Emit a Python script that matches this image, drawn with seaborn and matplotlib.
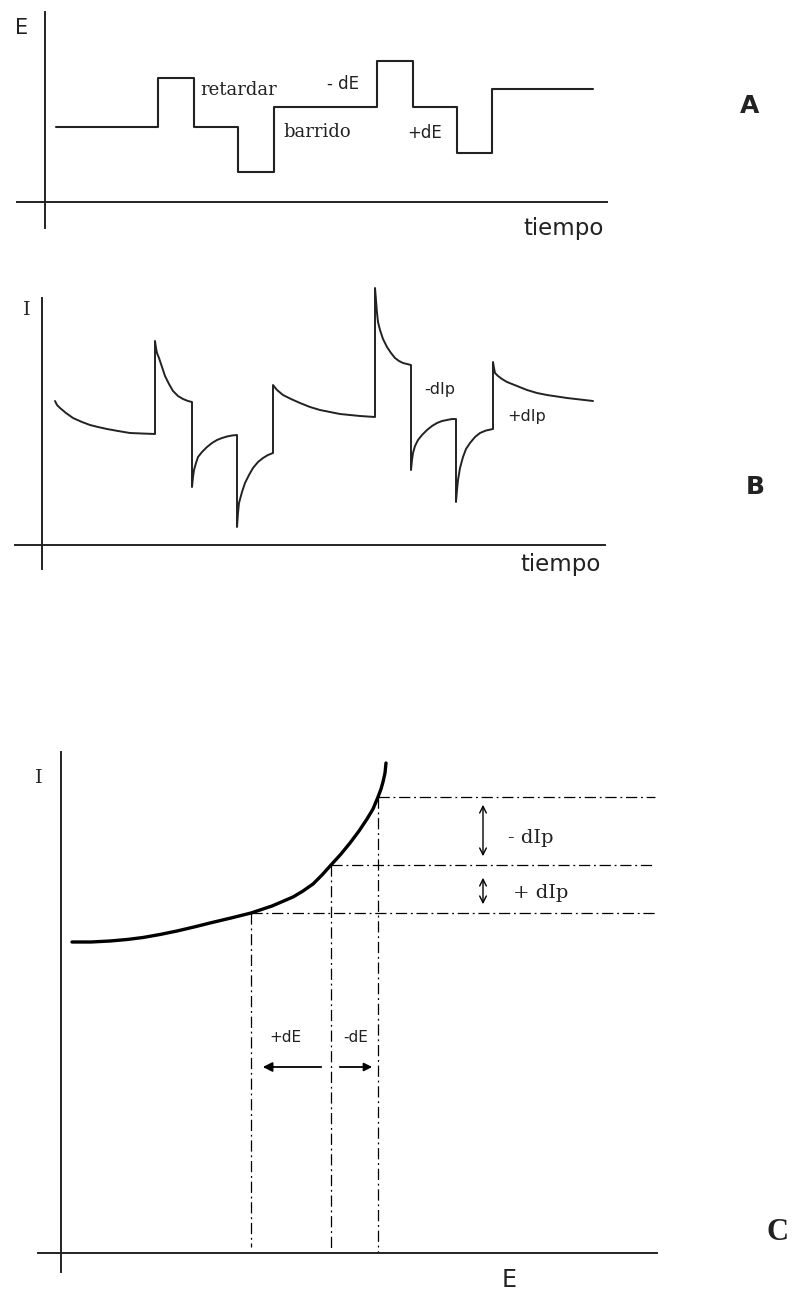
import matplotlib
matplotlib.use("Agg")
import matplotlib.pyplot as plt
import seaborn as sns
import numpy as np
import pandas as pd

sns.set_theme(style="white")
plt.rcParams['font.family'] = ['DejaVu Sans']

W, H = 793, 1293
INK = "#222222"

# ---------------- data ----------------
# Panel A: potential staircase with pulses (time, E)
tA = [11, 113, 149, 193, 229, 332, 368, 412, 447, 548]
EA = [75, 124, 75, 30, 95, 141, 95, 49, 113, 113]

# Panel B: current response (time, I)
tB = [13, 15, 18, 24, 31, 40, 48, 56, 65, 76, 88, 100, 113,
      113, 114, 115, 117, 119, 121, 123, 127, 131, 136, 141, 146, 150,
      150, 151, 152, 154, 156, 160, 165, 170, 175, 180, 185, 190, 195,
      195, 196, 197, 200, 203, 207, 211, 216, 221, 226, 231,
      231, 235, 241, 249, 258, 268, 278, 288, 298, 308, 318, 333,
      333, 334, 335, 336, 338, 341, 345, 349, 353, 357, 361, 365, 369,
      369, 370, 371, 373, 376, 380, 385, 390, 395, 400, 405, 410, 414,
      414, 415, 416, 418, 421, 424, 428, 433, 438, 444, 451,
      451, 452, 453, 456, 460, 465, 475, 485, 495, 505, 515, 525, 538, 551]
IB = [144, 140, 137, 132, 127, 123, 120, 118, 116, 114, 112, 111.5, 111,
      204, 197, 192, 187, 181, 175, 169, 161, 154, 149, 146, 144, 143,
      58, 68, 75, 82, 88, 93, 98, 102, 105, 107, 108.5, 109.5, 110,
      18, 32, 42, 53, 62, 70, 77, 83, 87, 90, 92,
      160, 155, 150, 146, 142, 138, 135, 133, 131, 130, 129, 128,
      257, 245, 232, 223, 215, 206, 198, 192, 187, 184, 182, 181, 180,
      75, 85, 92, 99, 105, 110, 115, 119, 122, 124, 125, 126, 126,
      43, 55, 65, 77, 88, 96, 102, 108, 112, 114.5, 116,
      183, 177, 172, 169, 166, 163, 159, 155, 152, 150, 148.5, 147, 145.5, 144]

# Panel C: I-E curve
EC = [11, 30, 49, 66, 82, 99, 116, 133, 149, 170, 190, 211, 232, 242, 252,
      261, 270, 280, 289, 298, 306, 312, 317, 320, 322, 324, 325]
IC = [311, 311, 312, 313.5, 315.5, 318.5, 322, 326, 330, 335, 340, 347, 356,
      362, 369, 378, 388, 399, 410, 422, 434, 444, 456, 464, 471, 480, 490]
E_marks = [190, 270, 317]
I_marks = [340, 388, 456]
E_guide_end = 594
I_guide_floor = [6, 3, 0]


def px2fig(px, py):
    return px / W, 1 - py / H


fig = plt.figure(figsize=(W / 100, H / 100), dpi=100)


def make_axes(top_px, bot_px, ox, oy, xb, yb):
    """axes band from top_px to bot_px, origin at pixel (ox, oy); 1 unit = 1 px"""
    ax = fig.add_axes([0, 1 - bot_px / H, 1, (bot_px - top_px) / H])
    ax.set_xlim(-ox, W - ox)
    ax.set_ylim(oy - bot_px, oy - top_px)
    ax.patch.set_alpha(0)
    for s in ["top", "right"]:
        ax.spines[s].set_visible(False)
    for s in ["left", "bottom"]:
        ax.spines[s].set_visible(True)
        ax.spines[s].set_color(INK)
        ax.spines[s].set_linewidth(1.4)
        ax.spines[s].set_position(("data", 0))
    ax.spines["bottom"].set_bounds(*xb)
    ax.spines["left"].set_bounds(*yb)
    ax.set_xticks([])
    ax.set_yticks([])
    ax.grid(False)
    return ax


def label(px, py, s, ha="left", size=12, family="DejaVu Sans", weight="normal", color=INK):
    x, y = px2fig(px, py)
    fig.text(x, y, s, ha=ha, va="center", fontsize=size, family=family,
             fontweight=weight, color=color)


# ---------------- Panel A ----------------
axA = make_axes(0, 260, 45, 202, (-28, 562), (-26, 190))
sns.lineplot(x=tA, y=EA, ax=axA, sort=False, estimator=None, color=INK,
             lw=1.5, drawstyle="steps-post")
label(22, 28, "E", ha="center", size=15)
label(200, 90, "retardar", size=13, family="DejaVu Serif")
label(283, 132, "barrido", size=13, family="DejaVu Serif")
label(327, 84, "- dE", size=12)
label(407, 133, "+dE", size=12)
label(750, 106, "A", ha="center", size=18, weight="bold")
label(564, 228, "tiempo", ha="center", size=16.5)

# ---------------- Panel B ----------------
axB = make_axes(270, 600, 42, 545, (-27, 563), (-24, 247))
sns.lineplot(x=tB, y=IB, ax=axB, sort=False, estimator=None, color=INK, lw=1.4,
             solid_joinstyle="round")
label(27, 310, "I", ha="center", size=14, family="DejaVu Serif")
label(424, 389, "-dIp", size=11.5)
label(507, 417, "+dIp", size=11.5)
label(755, 487, "B", ha="center", size=18, weight="bold")
label(561, 565, "tiempo", ha="center", size=16.5)

# ---------------- Panel C ----------------
axC = make_axes(740, 1293, 61, 1253, (-23, 596), (-19, 501))
sns.lineplot(x=EC, y=IC, ax=axC, sort=False, estimator=None, color="black", lw=2.4,
             solid_joinstyle="round", solid_capstyle="round")
dashdot = (0, (9, 3, 1.5, 3))
for e, i, f in zip(E_marks, I_marks, I_guide_floor):
    axC.plot([e, E_guide_end], [i, i], color="black", lw=0.9, linestyle=dashdot)
    axC.plot([e, e], [i, f], color="black", lw=0.9, linestyle=dashdot)

# vertical double arrows (dIp)
axC.annotate("", xy=(422, I_marks[2] - 5), xytext=(422, I_marks[1] + 6),
             arrowprops=dict(arrowstyle="<->", color="black", lw=1.0))
axC.annotate("", xy=(422, I_marks[1] - 10), xytext=(422, I_marks[0] + 6),
             arrowprops=dict(arrowstyle="<->", color="black", lw=1.0))
# horizontal arrows (dE)
axC.annotate("", xy=(199, 186), xytext=(263, 186),
             arrowprops=dict(arrowstyle="-|>", color="black", lw=1.3,
                             mutation_scale=14))
axC.annotate("", xy=(314, 186), xytext=(276, 186),
             arrowprops=dict(arrowstyle="-|>", color="black", lw=1.3,
                             mutation_scale=12))

label(39, 778, "I", ha="center", size=14, family="DejaVu Serif")
label(508, 838, "- dIp", size=14, family="DejaVu Serif")
label(513, 893, "+ dIp", size=14, family="DejaVu Serif")
label(269, 1037, "+dE", size=11)
label(343, 1037, "-dE", size=11)
label(509, 1280, "E", ha="center", size=17)
label(777, 1233, "C", ha="center", size=22, family="Liberation Serif", weight="bold")

fig.savefig("out.png", dpi=100)
